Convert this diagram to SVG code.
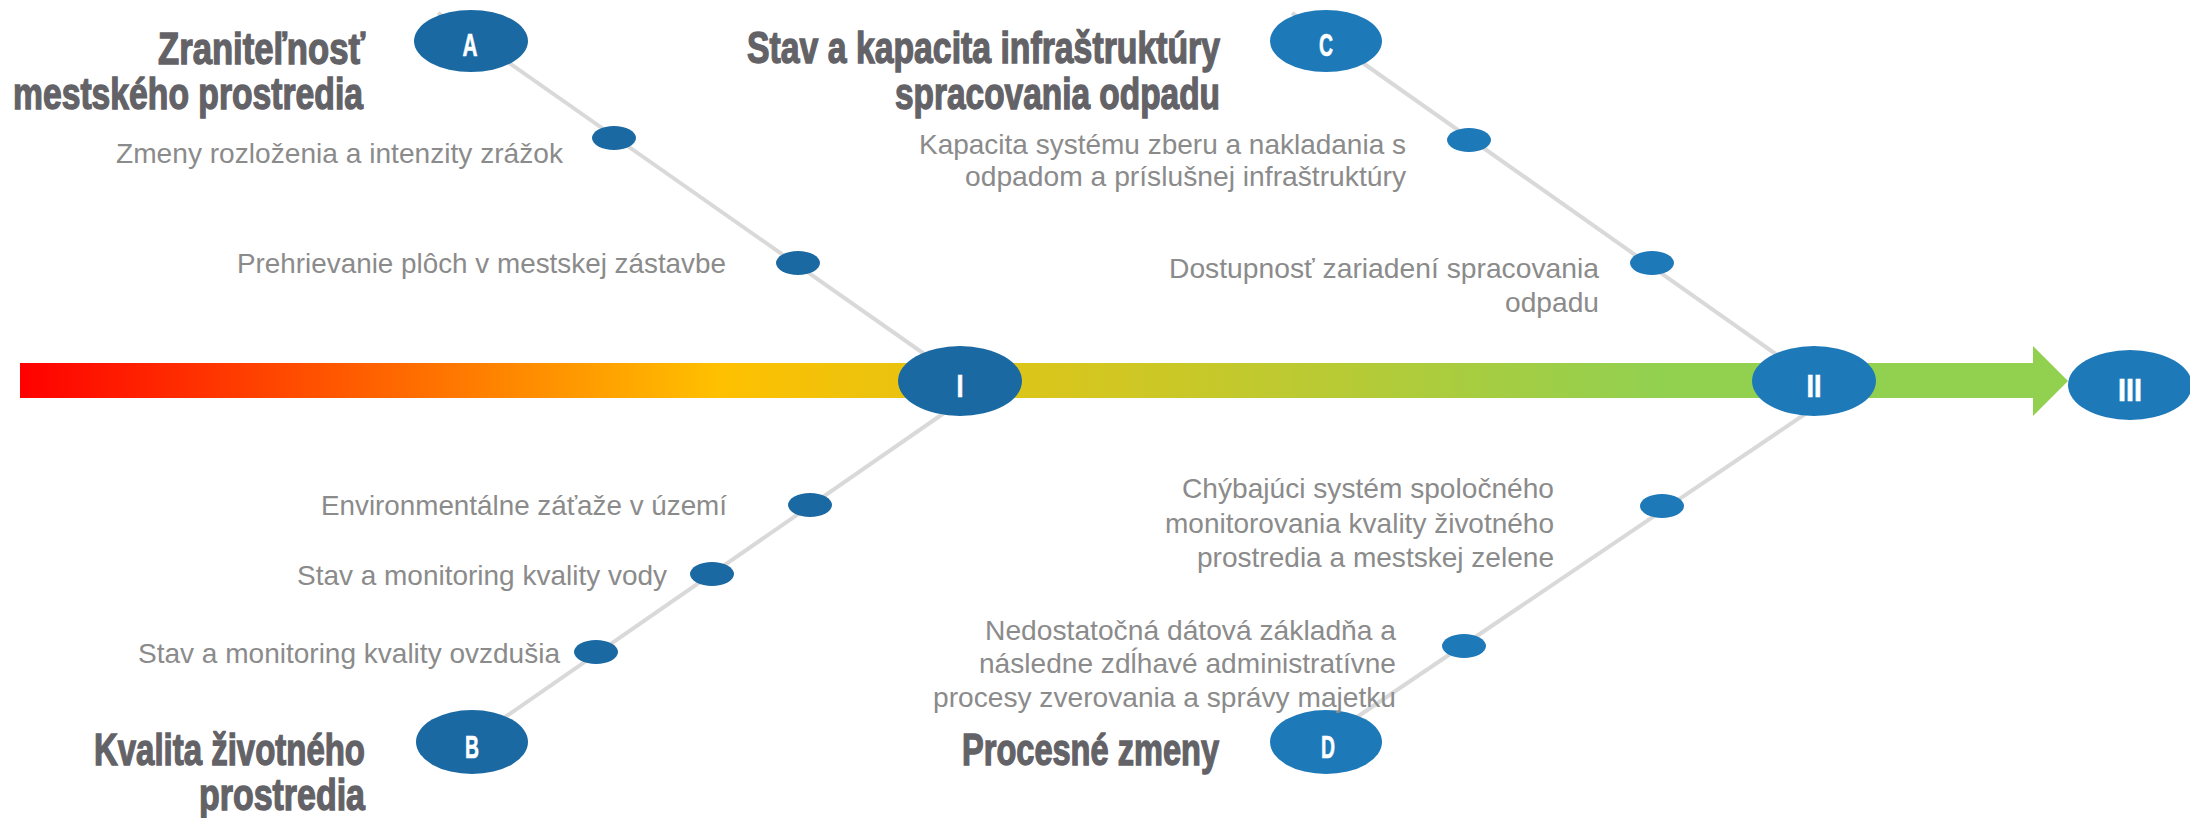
<svg xmlns="http://www.w3.org/2000/svg" width="2190" height="818" viewBox="0 0 2190 818">
<style>
.ln{stroke:#d9d9d9;stroke-width:4;fill:none}
.dk{fill:#1a69a2}
.lt{fill:#1e79b9}
.let{font-family:"Liberation Sans Narrow","Liberation Sans",sans-serif;font-weight:bold;font-size:32px;fill:#ffffff;stroke:#ffffff;stroke-width:0.6;text-anchor:middle}
.hd{font-family:"Liberation Sans Narrow","Liberation Sans",sans-serif;font-weight:bold;font-size:45px;fill:#636267;stroke:#636267;stroke-width:1.4;text-anchor:end}
.it{font-family:"Liberation Sans",Arial,sans-serif;font-size:28px;fill:#8b8b8b;text-anchor:end}
</style>
<defs>
<linearGradient id="grad" gradientUnits="userSpaceOnUse" x1="20" y1="0" x2="2068" y2="0">
<stop offset="0" stop-color="#ff0000"/>
<stop offset="0.34" stop-color="#ffc000"/>
<stop offset="0.80" stop-color="#92d050"/>
<stop offset="1" stop-color="#92d050"/>
</linearGradient>
</defs>
<rect width="2190" height="818" fill="#ffffff"/>
<g id="connectors">
<line class="ln" x1="438" y1="13" x2="960" y2="379"/>
<line class="ln" x1="1292" y1="13" x2="1814" y2="381"/>
<line class="ln" x1="472" y1="740" x2="960" y2="402"/>
<line class="ln" x1="1326" y1="738" x2="1814" y2="408"/>
</g>
<g id="timeline">
<path d="M20,363 H2033 V346 L2068,381 L2033,416 V398 H20 Z" fill="url(#grad)"/>
</g>
<g id="dots">
<ellipse class="dk" cx="614" cy="138" rx="22" ry="12"/>
<ellipse class="dk" cx="798" cy="263" rx="22" ry="12"/>
<ellipse class="lt" cx="1469" cy="140" rx="22" ry="12"/>
<ellipse class="lt" cx="1652" cy="263" rx="22" ry="12"/>
<ellipse class="dk" cx="810" cy="505" rx="22" ry="12"/>
<ellipse class="dk" cx="712" cy="574" rx="22" ry="12"/>
<ellipse class="dk" cx="596" cy="652" rx="22" ry="12"/>
<ellipse class="lt" cx="1662" cy="506" rx="22" ry="12"/>
<ellipse class="lt" cx="1464" cy="646" rx="22" ry="12"/>
</g>
<g id="node-A"><ellipse class="dk" cx="471" cy="41" rx="57" ry="31"/><text class="let" x="470" y="56" textLength="15" lengthAdjust="spacingAndGlyphs">A</text></g>
<g id="node-C"><ellipse class="lt" cx="1326" cy="41" rx="56" ry="31"/><text class="let" x="1326" y="56" textLength="14" lengthAdjust="spacingAndGlyphs">C</text></g>
<g id="node-B"><ellipse class="dk" cx="472" cy="742" rx="56" ry="32"/><text class="let" x="472" y="758" textLength="14" lengthAdjust="spacingAndGlyphs">B</text></g>
<g id="node-D"><ellipse class="lt" cx="1326" cy="742" rx="56" ry="32"/><text class="let" x="1328" y="758" textLength="14" lengthAdjust="spacingAndGlyphs">D</text></g>
<g id="node-I"><ellipse class="dk" cx="960" cy="381" rx="62" ry="35"/><text class="let" x="960" y="397" textLength="7" lengthAdjust="spacingAndGlyphs">I</text></g>
<g id="node-II"><ellipse class="lt" cx="1814" cy="381" rx="62" ry="35"/><text class="let" x="1814" y="397" textLength="15" lengthAdjust="spacingAndGlyphs">II</text></g>
<g id="node-III"><ellipse class="lt" cx="2130" cy="385" rx="62" ry="35"/><text class="let" x="2130" y="401" textLength="24" lengthAdjust="spacingAndGlyphs">III</text></g>
<g id="header-A">
<text class="hd" x="365" y="64" textLength="207" lengthAdjust="spacingAndGlyphs">Zraniteľnosť</text>
<text class="hd" x="363" y="109" textLength="350" lengthAdjust="spacingAndGlyphs">mestského prostredia</text>
</g>
<g id="header-C">
<text class="hd" x="1220" y="63" textLength="473" lengthAdjust="spacingAndGlyphs">Stav a kapacita infraštruktúry</text>
<text class="hd" x="1220" y="109" textLength="325" lengthAdjust="spacingAndGlyphs">spracovania odpadu</text>
</g>
<g id="header-B">
<text class="hd" x="365" y="765" textLength="271" lengthAdjust="spacingAndGlyphs">Kvalita životného</text>
<text class="hd" x="365" y="810" textLength="166" lengthAdjust="spacingAndGlyphs">prostredia</text>
</g>
<g id="header-D">
<text class="hd" x="1219" y="765" textLength="257" lengthAdjust="spacingAndGlyphs">Procesné zmeny</text>
</g>
<g id="items-A">
<text class="it" x="563" y="163" textLength="447" lengthAdjust="spacingAndGlyphs">Zmeny rozloženia a intenzity zrážok</text>
<text class="it" x="726" y="273" textLength="489" lengthAdjust="spacingAndGlyphs">Prehrievanie plôch v mestskej zástavbe</text>
</g>
<g id="items-C">
<text class="it" x="1406" y="154" textLength="487" lengthAdjust="spacingAndGlyphs">Kapacita systému zberu a nakladania s</text>
<text class="it" x="1406" y="186" textLength="441" lengthAdjust="spacingAndGlyphs">odpadom a príslušnej infraštruktúry</text>
<text class="it" x="1599" y="278" textLength="430" lengthAdjust="spacingAndGlyphs">Dostupnosť zariadení spracovania</text>
<text class="it" x="1599" y="312" textLength="94" lengthAdjust="spacingAndGlyphs">odpadu</text>
</g>
<g id="items-B">
<text class="it" x="727" y="515" textLength="406" lengthAdjust="spacingAndGlyphs">Environmentálne záťaže v území</text>
<text class="it" x="667" y="585" textLength="370" lengthAdjust="spacingAndGlyphs">Stav a monitoring kvality vody</text>
<text class="it" x="560" y="663" textLength="422" lengthAdjust="spacingAndGlyphs">Stav a monitoring kvality ovzdušia</text>
</g>
<g id="items-D">
<text class="it" x="1554" y="498" textLength="372" lengthAdjust="spacingAndGlyphs">Chýbajúci systém spoločného</text>
<text class="it" x="1554" y="533" textLength="389" lengthAdjust="spacingAndGlyphs">monitorovania kvality životného</text>
<text class="it" x="1554" y="567" textLength="357" lengthAdjust="spacingAndGlyphs">prostredia a mestskej zelene</text>
<text class="it" x="1396" y="640" textLength="411" lengthAdjust="spacingAndGlyphs">Nedostatočná dátová základňa a</text>
<text class="it" x="1396" y="673" textLength="417" lengthAdjust="spacingAndGlyphs">následne zdĺhavé administratívne</text>
<text class="it" x="1396" y="707" textLength="463" lengthAdjust="spacingAndGlyphs">procesy zverovania a správy majetku</text>
</g>
</svg>
